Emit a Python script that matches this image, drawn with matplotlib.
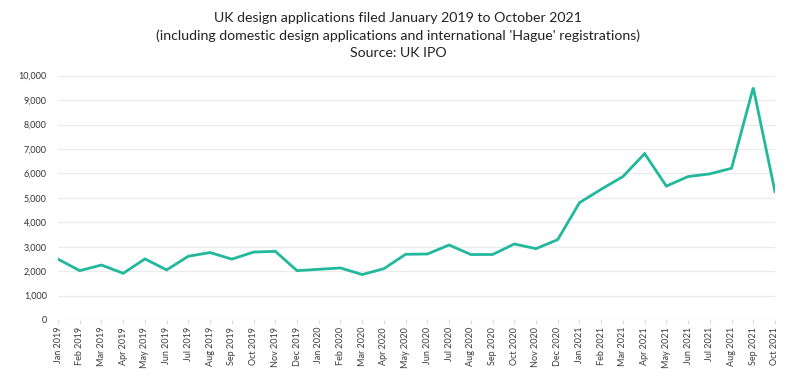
import matplotlib.pyplot as plt
from matplotlib.ticker import FuncFormatter

plt.rcParams['font.family'] = ['Lato', 'DejaVu Sans']

months = ['Jan', 'Feb', 'Mar', 'Apr', 'May', 'Jun', 'Jul', 'Aug', 'Sep', 'Oct', 'Nov', 'Dec']
labels = [f'{m} {y}' for y in (2019, 2020, 2021) for m in months][:34]

# monthly filings
applications = [
    2490, 2020, 2250, 1910, 2500, 2050, 2610, 2760, 2490, 2780, 2810, 2020,
    2075, 2130, 1860, 2100, 2690, 2700, 3070, 2680, 2680, 3110, 2920, 3290,
    4800, 5350, 5870, 6810, 5480, 5870, 5980, 6210, 9510, 5250,
]

fig = plt.figure(figsize=(7.96, 3.90), dpi=100)
ax = fig.add_axes([0.0729, 0.1795, 0.9007, 0.6265])

ax.plot(range(len(applications)), applications, color='#22b89b', linewidth=2.0,
        solid_joinstyle='miter')

ax.set_xlim(0, len(applications) - 1)
ax.set_ylim(0, 10000)
ax.set_yticks(range(0, 10001, 1000))
ax.yaxis.set_major_formatter(FuncFormatter(lambda v, p: f'{int(v):,}'))
ax.set_xticks(range(len(labels)))
ax.set_xticklabels(labels, rotation=90, fontsize=6.5, color='#3a3a3a')
ax.tick_params(axis='y', length=0, labelsize=6.5, labelcolor='#333333', pad=8)
ax.tick_params(axis='x', length=3, color='#dddddd', pad=2)

ax.grid(axis='y', color='#ebebeb', linewidth=0.9)
ax.set_axisbelow(True)
for s in ax.spines.values():
    s.set_visible(False)

title_lines = [
    'UK design applications filed January 2019 to October 2021',
    "(including domestic design applications and international 'Hague' registrations)",
    'Source: UK IPO',
]
for i, line in enumerate(title_lines):
    fig.text(0.5, 0.955 - 0.046 * i, line, ha='center', va='center',
             fontsize=10.2, color='#222222')

fig.savefig('out.png', dpi=100)
